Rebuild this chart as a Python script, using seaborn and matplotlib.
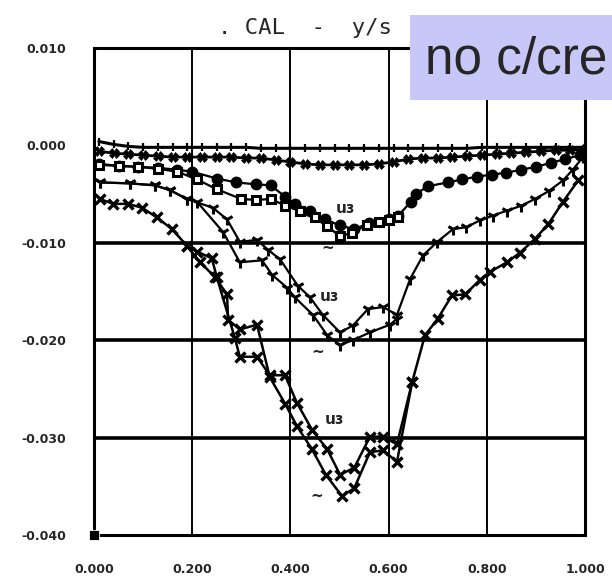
import matplotlib
matplotlib.use("Agg")
import matplotlib.pyplot as plt
from matplotlib.patches import Rectangle
import seaborn as sns

# --- data ---
x_ticks = [0.0, 0.2, 0.4, 0.6, 0.8, 1.0]
x_tick_labels = ["0.000", "0.200", "0.400", "0.600", "0.800", "1.000"]
y_ticks = [0.010, 0.000, -0.010, -0.020, -0.030, -0.040]
y_tick_labels = ["0.010", "0.000", "-0.010", "-0.020", "-0.030", "-0.040"]

# top series (small ticks), almost flat
top_x = [0.01, 0.04, 0.07, 0.10, 0.13, 0.16, 0.19, 0.22, 0.25, 0.28, 0.31, 0.34,
         0.37, 0.40, 0.43, 0.46, 0.49, 0.52, 0.55, 0.58, 0.61, 0.64, 0.67, 0.70,
         0.73, 0.76, 0.79, 0.82, 0.85, 0.88, 0.91, 0.94, 0.97, 1.00]
top_y = [0.0004, 0.0001, -0.0001, -0.0002, -0.0002, -0.0002, -0.0002, -0.0002,
         -0.0002, -0.0002, -0.0002, -0.0003, -0.0003, -0.0003, -0.0003, -0.0003,
         -0.0003, -0.0003, -0.0003, -0.0003, -0.0003, -0.0003, -0.0003, -0.0003,
         -0.0003, -0.0003, -0.0002, -0.0002, -0.0002, -0.0002, -0.0002, -0.0002,
         -0.0002, -0.0002]

# second series (x markers)
xs2_x = top_x
xs2_y = [-0.0006, -0.0008, -0.0009, -0.0010, -0.0011, -0.0012, -0.0012, -0.0012,
         -0.0012, -0.0012, -0.0013, -0.0013, -0.0015, -0.0017, -0.0019, -0.0020,
         -0.0020, -0.0020, -0.0020, -0.0019, -0.0017, -0.0014, -0.0013, -0.0013,
         -0.0012, -0.0011, -0.0010, -0.0009, -0.0008, -0.0007, -0.0006, -0.0005,
         -0.0005, -0.0004]

# filled circle / square series
sq1_x = [0.01, 0.05, 0.09, 0.13, 0.17, 0.20, 0.25, 0.29, 0.33, 0.36, 0.39, 0.41,
         0.44, 0.47, 0.50, 0.53, 0.56, 0.60, 0.62, 0.645, 0.655, 0.68, 0.72, 0.75,
         0.78, 0.81, 0.84, 0.87, 0.90, 0.93, 0.96, 0.99]
sq1_y = [-0.0019, -0.0021, -0.0022, -0.0023, -0.0025, -0.0027, -0.0034, -0.0038,
         -0.0040, -0.0041, -0.0053, -0.0060, -0.0067, -0.0076, -0.0082, -0.0086,
         -0.0080, -0.0076, -0.0072, -0.0058, -0.0050, -0.0042, -0.0038, -0.0035,
         -0.0032, -0.0030, -0.0028, -0.0025, -0.0022, -0.0018, -0.0014, -0.0010]

# open square series
sq2_x = [0.01, 0.05, 0.09, 0.13, 0.17, 0.21, 0.25, 0.30, 0.33, 0.36, 0.39, 0.42,
         0.45, 0.475, 0.50, 0.525, 0.555, 0.58, 0.60, 0.62]
sq2_y = [-0.0020, -0.0021, -0.0022, -0.0024, -0.0027, -0.0035, -0.0045, -0.0055,
         -0.0056, -0.0055, -0.0062, -0.0067, -0.0074, -0.0083, -0.0093, -0.0090,
         -0.0082, -0.0079, -0.0077, -0.0074]

# "Y" marker series
y1_x = [0.012, 0.073, 0.124, 0.155, 0.189, 0.242, 0.271, 0.297, 0.332, 0.354,
        0.379, 0.415, 0.44, 0.466, 0.501, 0.527, 0.558, 0.589, 0.617, 0.644, 0.67,
        0.699, 0.731, 0.758, 0.786, 0.813, 0.841, 0.87, 0.898, 0.926, 0.955, 0.975,
        0.996]
y1_y = [-0.0038, -0.0039, -0.0041, -0.0046, -0.0055, -0.0064, -0.0076, -0.0099,
        -0.0097, -0.0107, -0.0117, -0.0144, -0.0156, -0.0174, -0.0192, -0.0185,
        -0.0168, -0.0166, -0.0174, -0.0137, -0.0113, -0.0099, -0.0086, -0.0084,
        -0.0077, -0.0072, -0.0067, -0.0062, -0.0055, -0.0047, -0.0036, -0.0025,
        -0.0012]

y2_x = [0.012, 0.073, 0.124, 0.155, 0.189, 0.21, 0.263, 0.297, 0.342, 0.363,
        0.393, 0.409, 0.446, 0.475, 0.501, 0.527, 0.562, 0.603, 0.617]
y2_y = [-0.0038, -0.0039, -0.0041, -0.0046, -0.0055, -0.0058, -0.0089, -0.0120,
        -0.0118, -0.0133, -0.0146, -0.0156, -0.0174, -0.0195, -0.0205, -0.0200,
        -0.0192, -0.0184, -0.0178]

# deep "x" series
xa_x = [0.012, 0.039, 0.069, 0.098, 0.128, 0.159, 0.189, 0.216, 0.246, 0.271,
        0.273, 0.297, 0.332, 0.358, 0.389, 0.413, 0.444, 0.472, 0.505, 0.53,
        0.562, 0.589, 0.617, 0.648, 0.674, 0.70, 0.729, 0.756, 0.786, 0.806,
        0.841, 0.868, 0.898, 0.925, 0.955, 0.986]
xa_y = [-0.0055, -0.0060, -0.0060, -0.0064, -0.0074, -0.0086, -0.0103, -0.0120,
        -0.0135, -0.0153, -0.0179, -0.0189, -0.0184, -0.0238, -0.0265, -0.0288,
        -0.0312, -0.0338, -0.0360, -0.0352, -0.0315, -0.0313, -0.0325, -0.0243,
        -0.0195, -0.0178, -0.0154, -0.0153, -0.0138, -0.0130, -0.0120, -0.0110,
        -0.0096, -0.0081, -0.0058, -0.0036]

xb_x = [0.189, 0.21, 0.24, 0.25, 0.287, 0.297, 0.332, 0.358, 0.389, 0.413, 0.444,
        0.475, 0.501, 0.53, 0.562, 0.589, 0.617, 0.648]
xb_y = [-0.0103, -0.0109, -0.0116, -0.0135, -0.0198, -0.0217, -0.0217, -0.0236,
        -0.0236, -0.0264, -0.0292, -0.0312, -0.0338, -0.0331, -0.0299, -0.0299,
        -0.0307, -0.0243]

corner_x = [0.0]
corner_y = [-0.040]

# curve labels scribbled on the plot
label_text = ["u\u025c", "u\u025c", "u\u025c", "~", "~", "~"]
label_x = [0.511, 0.48, 0.49, 0.477, 0.456, 0.454]
label_y = [-0.0065, -0.0155, -0.0281, -0.0106, -0.0212, -0.0360]

sns.set_theme(style="white")
plt.rcParams['font.family'] = ['DejaVu Sans']

fig = plt.figure(figsize=(6.12, 5.79), dpi=100)
ax = fig.add_axes([94 / 612, 1 - 535 / 579, (585 - 94) / 612, (535 - 48) / 579])

# grid like the plotter output
for gx in [0.2, 0.4, 0.6, 0.8]:
    ax.axvline(gx, color="black", lw=1.4, zorder=1)
for gy in [-0.01, -0.02, -0.03]:
    ax.axhline(gy, color="black", lw=2.6, zorder=1)

# seaborn defaults marker edges to white, so force black everywhere
common = dict(color="black", mec="black", sort=False, estimator=None, legend=False, ax=ax)
sns.lineplot(x=top_x, y=top_y, marker="|", markersize=6, mew=1.6, lw=2.2, **common)
sns.lineplot(x=xs2_x, y=xs2_y, marker="X", markersize=7, mew=0.5, lw=2.0, **common)
sns.lineplot(x=sq1_x, y=sq1_y, marker="o", markersize=7, mew=1.5, lw=1.6, **common)
sns.lineplot(x=sq2_x, y=sq2_y, marker="s", markersize=6, mfc="white",
             mew=2.2, lw=1.6, **common)
sns.lineplot(x=y1_x, y=y1_y, marker="1", markersize=9, mew=2.2, lw=1.6, **common)
sns.lineplot(x=y2_x, y=y2_y, marker="1", markersize=9, mew=2.2, lw=1.6, **common)
sns.lineplot(x=xa_x, y=xa_y, marker="x", markersize=7, mew=2.4, lw=1.8, **common)
sns.lineplot(x=xb_x, y=xb_y, marker="x", markersize=7, mew=2.4, lw=1.8, **common)
sns.scatterplot(x=corner_x, y=corner_y, marker="s", s=55, color="black",
                clip_on=False, zorder=5, ax=ax)

for t, lx, ly in zip(label_text, label_x, label_y):
    ax.text(lx, ly, t, fontsize=11, fontweight="bold", ha="center", va="center")

ax.set_xlim(0, 1.0)
ax.set_ylim(-0.040, 0.010)
ax.set_xticks(x_ticks)
ax.set_xticklabels(x_tick_labels, fontsize=9, fontweight="bold")
ax.set_yticks(y_ticks)
ax.set_yticklabels(y_tick_labels, fontsize=9, fontweight="bold")
ax.tick_params(axis="x", length=0, pad=20)
ax.tick_params(axis="y", length=0, pad=20)
for s in ax.spines.values():
    s.set_color("black")
    s.set_linewidth(2.2)
ax.set_xlabel("")
ax.set_ylabel("")

fig.text(218 / 612, 1 - 28 / 579, ". CAL  -  y/s", fontsize=16, family="DejaVu Sans Mono",
         ha="left", va="center")

# overlay box from the slide
fig.add_artist(Rectangle((410 / 612, 1 - 100 / 579), 202 / 612, 85 / 579,
                         transform=fig.transFigure, facecolor="#c8c8f8",
                         edgecolor="none", zorder=10))
fig.text(425 / 612, 1 - 60 / 579, "no c/cre", fontsize=37, family="Liberation Sans",
         ha="left", va="center", zorder=11)

fig.savefig("out.png", dpi=100)
